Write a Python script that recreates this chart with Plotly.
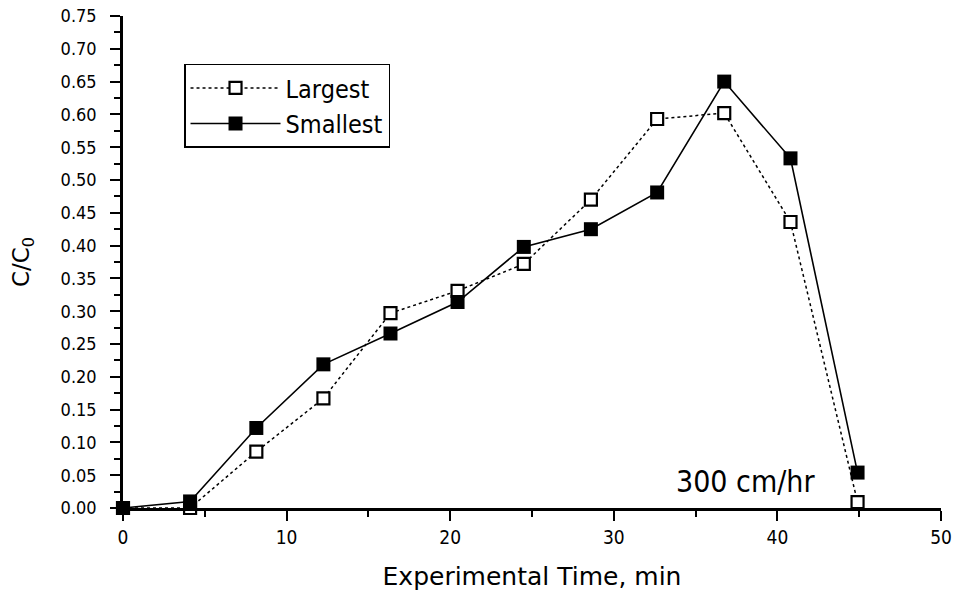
import plotly.graph_objects as go

time_min = [0, 4.1, 8.15, 12.25, 16.35, 20.45, 24.5, 28.6, 32.65, 36.75, 40.8, 44.9]
largest = [0.0, 0.0, 0.086, 0.167, 0.297, 0.331, 0.372, 0.470, 0.593, 0.602, 0.436, 0.009]
smallest = [0.0, 0.010, 0.122, 0.219, 0.266, 0.314, 0.398, 0.425, 0.481, 0.650, 0.533, 0.054]
x_ticks = [0, 10, 20, 30, 40, 50]

font_family = "DejaVu Sans"
cond = "DejaVu Sans Condensed"

fig = go.Figure()
fig.add_trace(go.Scatter(
    x=time_min, y=largest, name="Largest", mode="lines+markers",
    line=dict(color="black", width=1.5, dash="dot"),
    marker=dict(symbol="square", size=12, color="white", line=dict(color="black", width=2.2)),
    cliponaxis=False,
))
fig.add_trace(go.Scatter(
    x=time_min, y=smallest, name="Smallest", mode="lines+markers",
    line=dict(color="black", width=1.6),
    marker=dict(symbol="square", size=14, color="black", line=dict(color="black", width=0)),
    cliponaxis=False,
))

fig.update_layout(
    width=957, height=593,
    margin=dict(l=123, r=16, t=16, b=85),
    paper_bgcolor="white", plot_bgcolor="white",
    font=dict(family=font_family, color="black", size=18),
    showlegend=True,
    legend=dict(
        x=0.0746, y=0.903, xanchor="left", yanchor="top",
        bordercolor="black", borderwidth=1.5, bgcolor="white",
        font=dict(size=25, family=cond), tracegroupgap=0,
        itemwidth=90,
    ),
    annotations=[dict(
        x=42.4, y=0.0, xref="x", yref="y", text="300 cm/hr", showarrow=False,
        xanchor="right", yanchor="bottom", yshift=7,
        font=dict(size=30, family=cond, color="black"),
    )],
)

fig.update_xaxes(
    range=[0, 50], tickvals=x_ticks, showgrid=False, zeroline=False, automargin=False,
    showline=True, linecolor="black", linewidth=2.5,
    ticks="outside", ticklen=10, tickwidth=2, tickcolor="black",
    minor=dict(dtick=5, tick0=0, ticks="outside", ticklen=6, tickwidth=2, tickcolor="black", showgrid=False),
    tickfont=dict(size=19, family=cond),
    title=dict(text="Experimental Time, min", font=dict(size=25, family=font_family), standoff=21),
)
fig.update_yaxes(
    range=[0, 0.75], dtick=0.05, tick0=0, tickformat=".2f", showgrid=False, zeroline=False, automargin=False,
    showline=True, linecolor="black", linewidth=2.5,
    ticks="outside", ticklen=10, tickwidth=2, tickcolor="black",
    minor=dict(dtick=0.025, tick0=0, ticks="outside", ticklen=6, tickwidth=2, tickcolor="black", showgrid=False),
    tickfont=dict(size=18, family=cond), ticklabelstandoff=10,
    title=dict(text="C/C<sub>0</sub>", font=dict(size=23, family=font_family), standoff=25),
)

fig.write_html("out.html")
